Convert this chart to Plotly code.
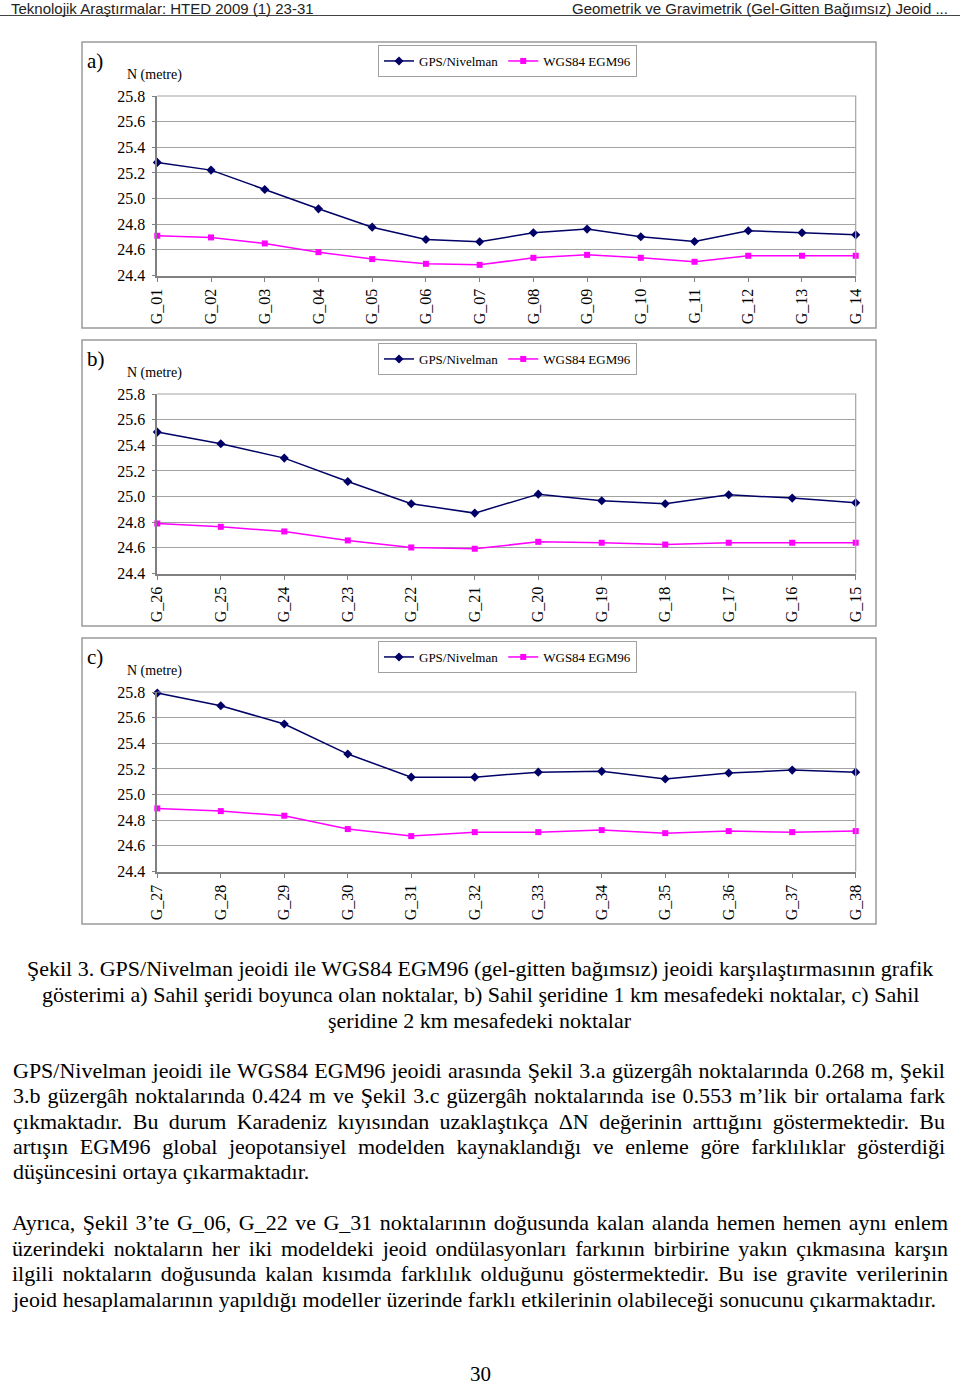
import json
import plotly.graph_objects as go

# ---------------- data ----------------
cats_a = ["G_01", "G_02", "G_03", "G_04", "G_05", "G_06", "G_07",
          "G_08", "G_09", "G_10", "G_11", "G_12", "G_13", "G_14"]
gps_a = [25.282, 25.222, 25.071, 24.920, 24.777, 24.681, 24.663,
         24.733, 24.762, 24.702, 24.665, 24.749, 24.733, 24.717]
egm_a = [24.710, 24.697, 24.650, 24.582, 24.528, 24.491, 24.483,
         24.538, 24.561, 24.538, 24.507, 24.554, 24.554, 24.554]

cats_b = ["G_26", "G_25", "G_24", "G_23", "G_22", "G_21",
          "G_20", "G_19", "G_18", "G_17", "G_16", "G_15"]
gps_b = [25.503, 25.412, 25.300, 25.118, 24.944, 24.871,
         25.019, 24.967, 24.944, 25.014, 24.988, 24.952]
egm_b = [24.790, 24.764, 24.728, 24.658, 24.603, 24.593,
         24.647, 24.640, 24.626, 24.640, 24.640, 24.640]

cats_c = ["G_27", "G_28", "G_29", "G_30", "G_31", "G_32",
          "G_33", "G_34", "G_35", "G_36", "G_37", "G_38"]
gps_c = [25.792, 25.693, 25.550, 25.316, 25.136, 25.136,
         25.175, 25.181, 25.121, 25.168, 25.191, 25.175]
egm_c = [24.892, 24.871, 24.835, 24.731, 24.676, 24.707,
         24.707, 24.723, 24.699, 24.715, 24.707, 24.715]

series_names = ["GPS/Nivelman", "WGS84 EGM96"]
panel_letters = ["a)", "b)", "c)"]
y_ticks = [24.4, 24.6, 24.8, 25.0, 25.2, 25.4, 25.6, 25.8]
y_title = "N (metre)"

header_left = "Teknolojik Araştırmalar: HTED 2009 (1) 23-31"
header_right = "Geometrik ve Gravimetrik (Gel-Gitten Bağımsız) Jeoid ..."

caption_lines = [
    "Şekil 3. GPS/Nivelman jeoidi ile WGS84 EGM96 (gel-gitten bağımsız) jeoidi karşılaştırmasının grafik",
    "gösterimi a) Sahil şeridi boyunca olan noktalar, b) Sahil şeridine 1 km mesafedeki noktalar, c) Sahil",
    "şeridine 2 km mesafedeki noktalar",
]
para1_lines = [
    "GPS/Nivelman jeoidi ile WGS84 EGM96 jeoidi arasında Şekil 3.a güzergâh noktalarında 0.268 m, Şekil",
    "3.b güzergâh noktalarında 0.424 m ve Şekil 3.c güzergâh noktalarında ise 0.553 m’lik bir ortalama fark",
    "çıkmaktadır. Bu durum Karadeniz kıyısından uzaklaştıkça ΔN değerinin arttığını göstermektedir. Bu",
    "artışın EGM96 global jeopotansiyel modelden kaynaklandığı ve enleme göre farklılıklar gösterdiği",
    "düşüncesini ortaya çıkarmaktadır.",
]
para2_lines = [
    "Ayrıca, Şekil 3’te G_06, G_22 ve G_31 noktalarının doğusunda kalan alanda hemen hemen aynı enlem",
    "üzerindeki noktaların her iki modeldeki jeoid ondülasyonları farkının birbirine yakın çıkmasına karşın",
    "ilgili noktaların doğusunda kalan kısımda farklılık olduğunu göstermektedir. Bu ise gravite verilerinin",
    "jeoid hesaplamalarının yapıldığı modeller üzerinde farklı etkilerinin olabileceği sonucunu çıkarmaktadır.",
]
page_number = "30"

# ---------------- layout helpers ----------------
W, H = 960, 1387
def px(x): return x / W
def py(y): return 1 - y / H

SERIF = "Liberation Serif, Times New Roman, serif"
NAVY = "#000066"
MAGENTA = "#ff00ff"
GRID = "#a3a3a3"
AXIS = "#808080"

panels = [(cats_a, gps_a, egm_a), (cats_b, gps_b, egm_b), (cats_c, gps_c, egm_c)]
box_tops = [42, 340, 638]
box_h = 286
plot_left, plot_right = 157.3, 855.7
plot_off_top, plot_h = 54, 179.5

fig = go.Figure()
shapes, annotations = [], []
layout = {}

for i, (cats, gps, egm) in enumerate(panels):
    sfx = "" if i == 0 else str(i + 1)
    leg = "legend" + sfx
    fig.add_trace(go.Scatter(
        x=cats, y=gps, name=series_names[0], mode="lines+markers",
        line=dict(color=NAVY, width=1.5),
        marker=dict(symbol="diamond", size=7, color=NAVY),
        xaxis="x" + sfx, yaxis="y" + sfx, legend=leg, cliponaxis=False))
    fig.add_trace(go.Scatter(
        x=cats, y=egm, name=series_names[1], mode="lines+markers",
        line=dict(color=MAGENTA, width=1.5),
        marker=dict(symbol="square", size=6, color=MAGENTA),
        xaxis="x" + sfx, yaxis="y" + sfx, legend=leg, cliponaxis=False))

    top = box_tops[i]
    ptop = top + plot_off_top
    pbot = ptop + plot_h
    layout["xaxis" + sfx] = dict(
        domain=[px(plot_left), px(plot_right)], anchor="y" + sfx,
        type="category", categoryorder="array", categoryarray=cats,
        range=[0, len(cats) - 1], tickangle=-90, automargin=False,
        tickfont=dict(family=SERIF, size=16, color="black"),
        showline=True, linecolor=AXIS, linewidth=1.5, mirror=False,
        ticks="outside", ticklen=5, tickcolor=AXIS, showgrid=False,
        zeroline=False, fixedrange=True)
    layout["yaxis" + sfx] = dict(
        domain=[py(pbot), py(ptop)], anchor="x" + sfx,
        range=[y_ticks[0], y_ticks[-1]], tickvals=y_ticks,
        tickformat=".1f", automargin=False,
        tickfont=dict(family=SERIF, size=16, color="black"),
        showline=True, linecolor=AXIS, linewidth=1.5,
        ticks="outside", ticklen=4, tickcolor=AXIS,
        showgrid=True, gridcolor=GRID, gridwidth=1.2,
        zeroline=False, fixedrange=True, ticklabelstandoff=3)
    layout[leg] = dict(
        orientation="h", x=px(378), y=py(top + 3), xanchor="left", yanchor="top",
        bgcolor="white", bordercolor="#a0a0a0", borderwidth=1,
        font=dict(family=SERIF, size=13, color="black"),
        itemwidth=30, tracegroupgap=0)
    shapes.append(dict(type="rect", xref="paper", yref="paper",
                       x0=px(82), x1=px(876), y0=py(top + box_h), y1=py(top),
                       line=dict(color="#9a9a9a", width=1.5), layer="below"))
    shapes.append(dict(type="path", xref="paper", yref="paper",
                       path=f"M {px(plot_left)} {py(ptop)} L {px(plot_right)} {py(ptop)} L {px(plot_right)} {py(pbot)}",
                       line=dict(color=GRID, width=1.2)))
    annotations.append(dict(text=panel_letters[i], x=px(85), y=py(top + 19),
                            xref="paper", yref="paper", xanchor="left", yanchor="middle",
                            align="left", showarrow=False,
                            font=dict(family=SERIF, size=21, color="black")))
    annotations.append(dict(text=y_title, x=px(125), y=py(top + 33),
                            xref="paper", yref="paper", xanchor="left", yanchor="middle",
                            align="left", showarrow=False,
                            font=dict(family=SERIF, size=14, color="black")))

# header
HEADF = "Liberation Sans Narrow, Arial Narrow, Liberation Sans, Arial, sans-serif"
annotations.append(dict(text=header_left, x=px(9), y=py(8), xref="paper", yref="paper",
                        xanchor="left", yanchor="middle", align="left", showarrow=False,
                        font=dict(family=HEADF, size=15, color="#222")))
annotations.append(dict(text=header_right, x=px(950), y=py(8), xref="paper", yref="paper",
                        xanchor="right", yanchor="middle", align="right", showarrow=False,
                        font=dict(family=HEADF, size=15, color="#222")))
shapes.append(dict(type="line", xref="paper", yref="paper", x0=0, x1=1,
                   y0=py(15.5), y1=py(15.5), line=dict(color="#444", width=1)))

TXT = dict(family=SERIF, size=22, color="black")
fit = {}   # annotation index -> target width in px
for line, yy in zip(caption_lines, [968, 994, 1020]):
    annotations.append(dict(text=line, x=px(480), y=py(yy), xref="paper", yref="paper",
                            xanchor="center", yanchor="middle", align="center",
                            showarrow=False, font=TXT))
for k, (line, yy) in enumerate(zip(para1_lines, [1070, 1095, 1121, 1146, 1171])):
    if k < len(para1_lines) - 1:
        fit[len(annotations)] = 932
    annotations.append(dict(text=line, x=px(11), y=py(yy), xref="paper", yref="paper",
                            xanchor="left", yanchor="middle", align="left",
                            showarrow=False, font=TXT))
p2_widths = [936, 936, 936, 923]
for k, (line, yy) in enumerate(zip(para2_lines, [1222, 1248, 1273, 1299])):
    fit[len(annotations)] = p2_widths[k]
    annotations.append(dict(text=line, x=px(10), y=py(yy), xref="paper", yref="paper",
                            xanchor="left", yanchor="middle", align="left",
                            showarrow=False, font=TXT))
annotations.append(dict(text=page_number, x=px(480), y=py(1374), xref="paper", yref="paper",
                        xanchor="center", yanchor="middle", showarrow=False,
                        font=dict(family=SERIF, size=21, color="black")))

fig.update_layout(
    width=W, height=H, autosize=False,
    margin=dict(l=0, r=0, t=0, b=0, pad=0, autoexpand=False),
    paper_bgcolor="white", plot_bgcolor="white",
    shapes=shapes, annotations=annotations, showlegend=True,
    **layout)

post = """
document.documentElement.style.margin='0px';
document.documentElement.style.padding='0px';
document.body.style.margin='0px';
document.body.style.padding='0px';
var gd=document.getElementById('{plot_id}');
gd.style.position='absolute'; gd.style.left='0px'; gd.style.top='0px';
var JW=%s;
try {
  gd.querySelectorAll('g.annotation').forEach(function(g){
    var idx=g.getAttribute('data-index');
    var tw=JW[idx];
    if(!tw) return;
    var t=g.querySelector('text.annotation-text');
    if(!t) return;
    var w=t.getComputedTextLength();
    if(w>tw){
      t.setAttribute('textLength', tw);
      t.setAttribute('lengthAdjust', 'spacingAndGlyphs');
    } else {
      var n=(t.textContent.match(/ /g)||[]).length;
      if(n>0) t.style.wordSpacing=((tw-w)/n)+'px';
    }
  });
} catch(e) {}
""" % json.dumps({str(k): v for k, v in fit.items()})

fig.write_html("out.html", post_script=post, config={"displayModeBar": False})
